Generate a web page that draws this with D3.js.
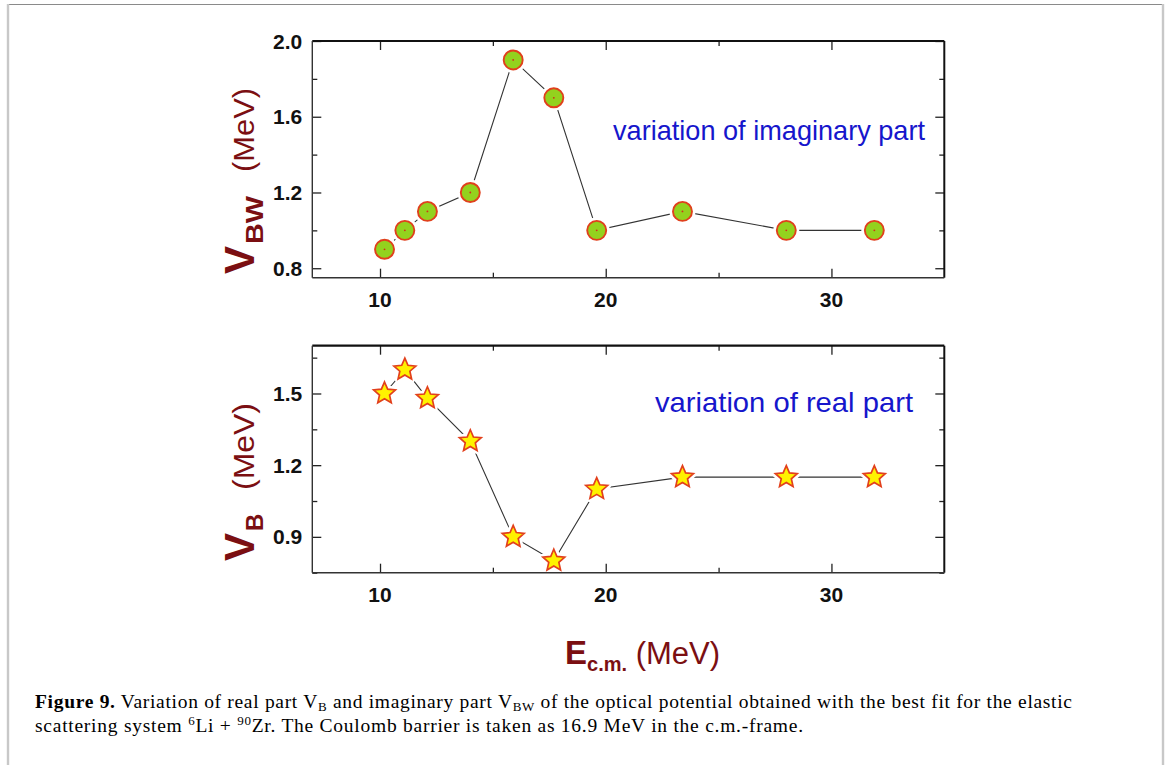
<!DOCTYPE html>
<html><head><meta charset="utf-8">
<script src="https://cdn.jsdelivr.net/npm/d3@7"></script>
<style>
html,body{margin:0;padding:0;background:#fff;}
svg{display:block;}
</style></head>
<body>
<svg id="chart" width="1167" height="765"></svg>
<script>
// ---- data ----
const energies = [10.2, 11.1, 12.1, 14.0, 15.9, 17.7, 19.6, 23.4, 28.0, 31.9];
const vBW = [0.9, 1.0, 1.1, 1.2, 1.9, 1.7, 1.0, 1.1, 1.0, 1.0];
const vB  = [1.5, 1.6, 1.48, 1.3, 0.9, 0.8, 1.1, 1.15, 1.15, 1.15];
const xTickMajor = [10, 20, 30];
const xTickMinor = [15, 25];
const topYMajor = [0.8, 1.2, 1.6, 2.0];
const topYMinor = [1.0, 1.4, 1.8];
const botYMajor = [0.9, 1.2, 1.5];
const botYMinor = [0.75, 1.05, 1.35, 1.65];

const svg = d3.select("#chart");
const darkRed = "#7b0f12";
const blue = "#1616cc";

// page border
svg.append("line").attr("x1",7).attr("x2",1163).attr("y1",4.5).attr("y2",4.5).attr("stroke","#8a8a8a").attr("stroke-width",1.2);
svg.append("line").attr("x1",8).attr("x2",8).attr("y1",4).attr("y2",765).attr("stroke","#c8c8c8").attr("stroke-width",2.4);
svg.append("line").attr("x1",1163).attr("x2",1163).attr("y1",4).attr("y2",765).attr("stroke","#c8c8c8").attr("stroke-width",2.4);

const x = d3.scaleLinear().domain([7, 35]).range([312.3, 944.3]);

function starPath(R, r){
  let p = "";
  for(let i=0;i<10;i++){
    const a = -Math.PI/2 + i*Math.PI/5;
    const rr = i%2===0 ? R : r;
    p += (i===0?"M":"L") + (rr*Math.cos(a)).toFixed(2) + "," + (rr*Math.sin(a)).toFixed(2);
  }
  return p + "Z";
}

function panel(yDomain, yRange, yMajor, yMinor, values, marker, note, noteX, noteY, noteLen, xLabelY){
  const y = d3.scaleLinear().domain(yDomain).range(yRange);
  const g = svg.append("g");
  const [x0, x1] = x.range();
  const [yb, yt] = yRange;

  // line
  const pts = energies.map((e,i)=>[e, values[i]]);
  g.append("path").datum(pts)
    .attr("d", d3.line().x(d=>x(d[0])).y(d=>y(d[1])))
    .attr("fill","none").attr("stroke","#333").attr("stroke-width",1.1);

  // markers
  const m = g.selectAll(".mk").data(pts).join("g").attr("transform",d=>`translate(${x(d[0])},${y(d[1])})`);
  if(marker === "circle"){
    m.append("circle").attr("r",13).attr("fill","#fff");
    m.append("circle").attr("r",9.5).attr("fill","#93d21e").attr("stroke","#e0401c").attr("stroke-width",1.9);
    m.append("circle").attr("r",0.9).attr("fill","#d03018");
  } else {
    m.append("path").attr("d",starPath(11.5,5.3)).attr("fill","#fff").attr("stroke","#fff").attr("stroke-width",7).attr("stroke-linejoin","round");
    m.append("path").attr("d",starPath(11.5,5.3)).attr("fill","#fff200").attr("stroke","#e2401c").attr("stroke-width",1.7).attr("stroke-linejoin","miter");
  }

  const tickStyle = sel => sel.attr("stroke","#222").attr("stroke-width",1.3);
  const mk = (axisFn, scale, ticks, size, tx, ty) => {
    const a = g.append("g").attr("transform",`translate(${tx},${ty})`)
      .call(axisFn(scale).tickValues(ticks).tickSizeInner(size).tickSizeOuter(0).tickFormat(""));
    a.select(".domain").remove();
    a.selectAll("line").call(tickStyle);
    return a;
  };
  mk(d3.axisBottom, x, xTickMajor, -9, 0, yb);
  mk(d3.axisBottom, x, xTickMinor, -5, 0, yb);
  mk(d3.axisTop, x, xTickMajor, -9, 0, yt);
  mk(d3.axisTop, x, xTickMinor, -5, 0, yt);
  mk(d3.axisLeft, y, yMajor, -9, x0, 0);
  mk(d3.axisLeft, y, yMinor, -5, x0, 0);
  mk(d3.axisRight, y, yMajor, -9, x1, 0);
  mk(d3.axisRight, y, yMinor, -5, x1, 0);

  // frame
  g.append("line").attr("x1",x0).attr("x2",x1).attr("y1",yt).attr("y2",yt).attr("stroke","#111").attr("stroke-width",2.2);
  g.append("line").attr("x1",x1).attr("x2",x1).attr("y1",yt).attr("y2",yb).attr("stroke","#111").attr("stroke-width",2);
  g.append("line").attr("x1",x0).attr("x2",x0).attr("y1",yt).attr("y2",yb).attr("stroke","#333").attr("stroke-width",1.4);
  g.append("line").attr("x1",x0).attr("x2",x1).attr("y1",yb).attr("y2",yb).attr("stroke","#333").attr("stroke-width",1.4);

  // tick labels
  const lab = g.append("g").attr("font-family","Liberation Sans, Arial, sans-serif").attr("font-weight","bold").attr("font-size",21).attr("fill","#111");
  lab.selectAll(".xl").data(xTickMajor).join("text").attr("x",d=>x(d)).attr("y",xLabelY).attr("text-anchor","middle").text(d=>d);
  lab.selectAll(".yl").data(yMajor).join("text").attr("x",x0-10).attr("y",d=>y(d)).attr("dy","0.36em").attr("text-anchor","end").text(d=>d.toFixed(1));

  // note
  g.append("text").attr("x",noteX).attr("y",noteY).attr("font-family","Liberation Sans, Arial, sans-serif")
    .attr("font-size",28).attr("fill",blue).attr("textLength",noteLen).attr("lengthAdjust","spacingAndGlyphs").text(note);
  return g;
}

panel([0.75, 2.0], [277.7, 41], topYMajor, topYMinor, vBW, "circle", "variation of imaginary part", 613, 140, 312, 307);
panel([0.75, 1.7], [572.7, 345.7], botYMajor, botYMinor, vB, "star", "variation of real part", 655, 412, 258, 602);

// y axis titles (rotated)
function yTitle(parts){
  parts.forEach(p=>{
    const t = svg.append("text")
      .attr("transform",`translate(${p.bx},${p.y0}) rotate(-90)`)
      .attr("font-family","Liberation Sans, Arial, sans-serif")
      .attr("font-weight",p.bold?"bold":"normal")
      .attr("font-size",p.fs).attr("fill",darkRed)
      .text(p.t);
    if(p.len) t.attr("textLength",p.len).attr("lengthAdjust","spacingAndGlyphs");
  });
}
yTitle([
  {t:"V", bx:254, y0:274, fs:42, bold:true},
  {t:"BW", bx:263, y0:244, len:48, fs:24, bold:true},
  {t:"(MeV)", bx:254, y0:172, len:84, fs:30, bold:false}
]);
yTitle([
  {t:"V", bx:254, y0:561, fs:42, bold:true},
  {t:"B", bx:263, y0:531, fs:24, bold:true},
  {t:"(MeV)", bx:254, y0:490, len:87, fs:30, bold:false}
]);

// x axis title
const xt = svg.append("text").attr("x",565).attr("y",664).attr("font-family","Liberation Sans, Arial, sans-serif").attr("fill",darkRed);
xt.append("tspan").attr("font-weight","bold").attr("font-size",33).text("E");
xt.append("tspan").attr("font-weight","bold").attr("font-size",20).attr("dy",7).text("c.m.");
xt.append("tspan").attr("font-size",31).attr("dy",-7).text("\u00a0(MeV)");

// caption
const cap = svg.append("g").attr("font-family","Liberation Serif, 'Times New Roman', serif").attr("font-size",19.5).attr("fill","#000");
const l1 = cap.append("text").attr("x",35).attr("y",708).attr("textLength",1037).attr("lengthAdjust","spacing");
l1.append("tspan").attr("font-weight","bold").text("Figure 9.");
l1.append("tspan").text(" Variation of real part V");
l1.append("tspan").attr("font-size",13).attr("dy",3).text("B");
l1.append("tspan").attr("dy",-3).text(" and imaginary part V");
l1.append("tspan").attr("font-size",13).attr("dy",3).text("BW");
l1.append("tspan").attr("dy",-3).text(" of the optical potential obtained with the best fit for the elastic");
const l2 = cap.append("text").attr("x",35).attr("y",732).attr("textLength",768).attr("lengthAdjust","spacing");
l2.append("tspan").text("scattering system ");
l2.append("tspan").attr("font-size",13).attr("dy",-7).text("6");
l2.append("tspan").attr("dy",7).text("Li + ");
l2.append("tspan").attr("font-size",13).attr("dy",-7).text("90");
l2.append("tspan").attr("dy",7).text("Zr. The Coulomb barrier is taken as 16.9 MeV in the c.m.-frame.");
</script>
</body></html>
